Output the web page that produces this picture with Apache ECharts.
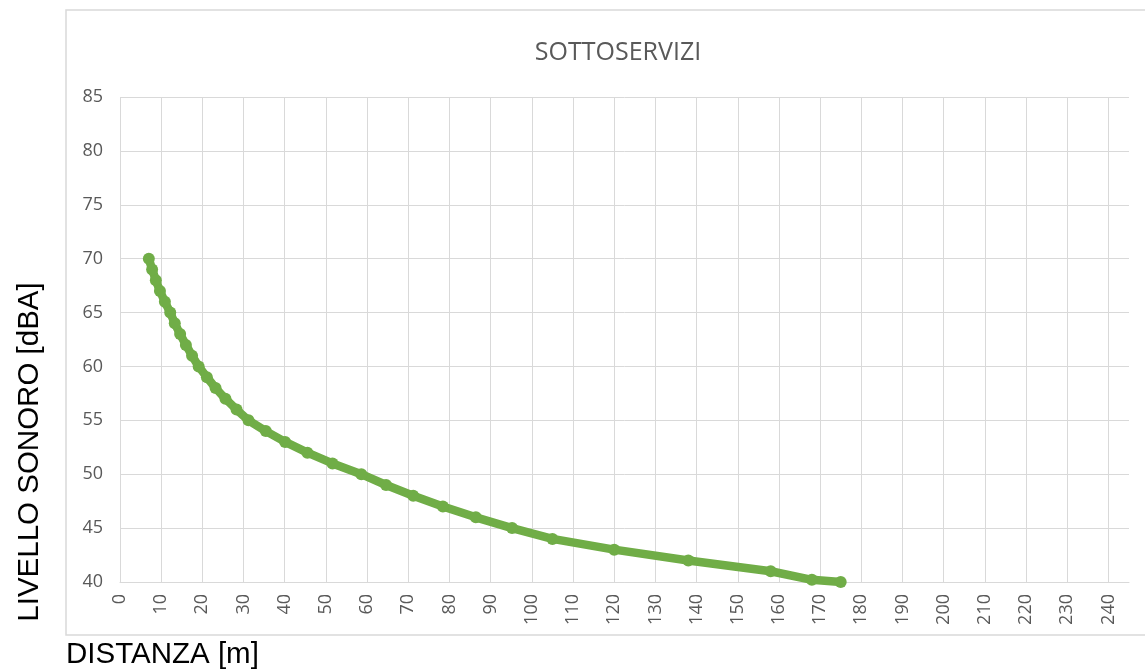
<!DOCTYPE html>
<html>
<head>
<meta charset="utf-8">
<script src="https://cdn.jsdelivr.net/npm/echarts@6/dist/echarts.min.js"></script>
<style>
html,body{margin:0;padding:0;background:#fff;}
#chart{width:1145px;height:670px;}
</style>
</head>
<body>
<div id="chart"></div>
<script>
const chartTitle = "SOTTOSERVIZI";
const xAxisTitle = "DISTANZA [m]";
const yAxisTitle = "LIVELLO SONORO [dBA]";
const distances = [7.0, 7.8, 8.7, 9.7, 10.9, 12.2, 13.3, 14.6, 16.0, 17.5, 19.1, 21.1, 23.2, 25.6, 28.3, 31.2, 35.4, 40.1, 45.5, 51.6, 58.6, 64.6, 71.2, 78.4, 86.4, 95.2, 105, 120, 138, 158, 168, 175];
const levels    = [70, 69, 68, 67, 66, 65, 64, 63, 62, 61, 60, 59, 58, 57, 56, 55, 54, 53, 52, 51, 50, 49, 48, 47, 46, 45, 44, 43, 42, 41, 40.2, 40];
const xMin = 0, xMax = 245, xStep = 10;
const yMin = 40, yMax = 85, yStep = 5;

const seriesData = distances.map((d, i) => [d, levels[i]]);

const chart = echarts.init(document.getElementById('chart'));
const grey = '#595959';
const gridCol = '#D9D9D9';
chart.setOption({
  animation: false,
  backgroundColor: '#fff',
  title: {
    text: chartTitle,
    left: 613, top: 35, textAlign: 'center',
    textStyle: { color: grey, fontSize: 25, fontWeight: 'normal', fontFamily: 'Open Sans' }
  },
  grid: { left: 120, right: 16, top: 97, bottom: 88, containLabel: false },
  xAxis: {
    type: 'value', min: xMin, max: xMax, interval: xStep,
    axisLine: { show: true, lineStyle: { color: gridCol, width: 1 } },
    axisTick: { show: false },
    axisLabel: { rotate: 90, color: grey, fontSize: 18, fontFamily: 'Open Sans', margin: 12, showMaxLabel: false },
    splitLine: { show: true, showMaxLine: false, lineStyle: { color: gridCol, width: 1 } }
  },
  yAxis: {
    type: 'value', min: yMin, max: yMax, interval: yStep,
    axisLine: { show: false },
    axisTick: { show: false },
    axisLabel: { color: grey, fontSize: 18, fontFamily: 'Open Sans', margin: 17 },
    splitLine: { show: true, lineStyle: { color: gridCol, width: 1 } }
  },
  graphic: [
    { type: 'rect', shape: { x: 66, y: 10, width: 1100, height: 625 }, style: { fill: 'none', stroke: gridCol, lineWidth: 1.5 }, silent: true, z: -1 },
    { type: 'text', x: 66, y: 655, style: { text: xAxisTitle, fill: '#000', fontSize: 29.5, fontFamily: 'Liberation Sans', verticalAlign: 'middle' } },
    { type: 'text', x: 30, y: 452, rotation: Math.PI / 2, style: { text: yAxisTitle, fill: '#000', fontSize: 29.5, fontFamily: 'Liberation Sans', align: 'center', verticalAlign: 'middle' } }
  ],
  series: [{
    type: 'line',
    data: seriesData,
    showSymbol: true,
    symbol: 'circle',
    symbolSize: 12,
    lineStyle: { color: '#70AD47', width: 8.5 },
    itemStyle: { color: '#70AD47' }
  }]
});
</script>
</body>
</html>
